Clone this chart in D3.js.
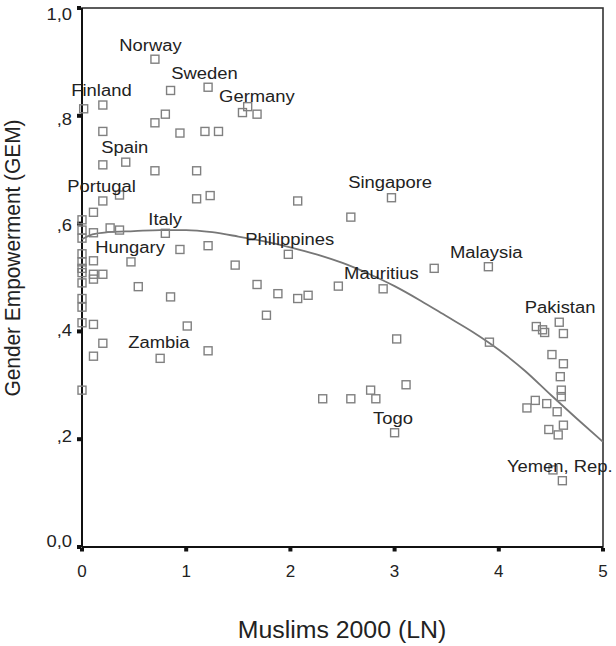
<!DOCTYPE html>
<html>
<head>
<meta charset="utf-8">
<style>
  body { margin: 0; background: #fff; }
  text { font-family: "Liberation Sans", Arial, sans-serif; fill: #222; }
</style>
</head>
<body>
<svg width="616" height="646"></svg>
<script src="https://cdn.jsdelivr.net/npm/d3@7"></script>
<script>
// data: Muslims 2000 (LN) vs GEM
var muslimsLn = [0.70, 0.85, 1.21, 0.016, 0.20, 1.54, 1.59, 1.68, 0.80, 0.70, 0.20, 0.94, 1.18, 1.31,
  0.20, 0.42, 0.70, 1.10, 0.36, 0.20, 1.10, 1.23, 0.11,
  0, 0, 0, 0, 0, 0, 0, 0, 0, 0, 0, 0,
  0.11, 0.27, 0.36, 0.80, 1.21, 0.94, 0.11, 0.47, 1.47, 0.11, 0.20, 0.11, 0.54, 1.68, 0.85,
  0.11, 1.01, 0.20, 1.21, 0.11, 0.75,
  2.07, 2.97, 2.58, 1.98, 3.38, 1.88, 2.07, 2.17, 2.46, 2.89, 1.77, 3.02, 3.11, 2.77, 2.31, 2.58, 2.82, 3.00,
  3.90, 3.91, 4.36, 4.44, 4.42, 4.58, 4.62, 4.51, 4.62, 4.59, 4.60, 4.60, 4.27, 4.35, 4.46, 4.56,
  4.48, 4.62, 4.57, 4.52, 4.61];
var gem = [0.905, 0.847, 0.853, 0.813, 0.820, 0.806, 0.817, 0.803, 0.803, 0.787, 0.771, 0.768, 0.771, 0.771,
  0.709, 0.714, 0.698, 0.698, 0.653, 0.642, 0.646, 0.652, 0.621,
  0.607, 0.588, 0.573, 0.544, 0.529, 0.517, 0.509, 0.490, 0.461, 0.445, 0.416, 0.291,
  0.583, 0.592, 0.588, 0.582, 0.559, 0.552, 0.531, 0.529, 0.523, 0.497, 0.506, 0.506, 0.483, 0.487, 0.464,
  0.413, 0.410, 0.378, 0.364, 0.354, 0.350,
  0.642, 0.648, 0.612, 0.543, 0.517, 0.470, 0.461, 0.467, 0.484, 0.479, 0.430, 0.386, 0.301, 0.291, 0.275, 0.275, 0.275, 0.212,
  0.520, 0.380, 0.409, 0.398, 0.403, 0.417, 0.396, 0.357, 0.340, 0.316, 0.291, 0.279, 0.258, 0.272, 0.266, 0.251,
  0.218, 0.226, 0.208, 0.143, 0.123];

// fitted curve, read at regular x steps
var fitX = [0, 0.1, 0.25, 0.5, 0.75, 1.0, 1.25, 1.5, 1.75, 2.0, 2.25, 2.5, 2.75, 3.0, 3.25, 3.5, 3.75, 4.0, 4.25, 4.5, 4.75, 5.0];
var fitY = [0.571, 0.580, 0.584, 0.586, 0.588, 0.588, 0.584, 0.576, 0.567, 0.556, 0.543, 0.527, 0.507, 0.484, 0.457, 0.428, 0.399, 0.366, 0.327, 0.282, 0.238, 0.195];

// country labels (left edge / baseline in data units)
var labelNames = ["Norway", "Sweden", "Finland", "Germany", "Spain", "Portugal", "Italy", "Hungary", "Zambia",
  "Philippines", "Singapore", "Mauritius", "Togo", "Malaysia", "Pakistan", "Yemen, Rep."];
var labelX = [0.358, 0.856, -0.103, 1.316, 0.185, -0.141, 0.636, 0.128, 0.444, 1.567, 2.555, 2.515, 2.793, 3.531, 4.25, 4.078];
var labelY = [0.920, 0.868, 0.837, 0.825, 0.731, 0.659, 0.597, 0.545, 0.369, 0.560, 0.666, 0.497, 0.228, 0.536, 0.434, 0.139];

var xTicks = [0, 1, 2, 3, 4, 5];
var yTicks = [0, 0.2, 0.4, 0.6, 0.8, 1.0];
var yTickLabels = ["0,0", ",2", ",4", ",6", ",8", "1,0"];

var svg = d3.select('svg');
var margin = { left: 82, right: 13, top: 8, bottom: 99 };
var width = +svg.attr('width') - margin.left - margin.right;
var height = +svg.attr('height') - margin.top - margin.bottom;
var g = svg.append('g')
  .attr('transform', `translate(${margin.left}, ${margin.top})`);

var x = d3.scaleLinear().domain([0, 5]).range([0, width]);
var y = d3.scaleLinear().domain([0, 1]).range([height, 0]);
// tick labels drift slightly from the ticks in the original
var yLab = d3.scaleLinear().domain([0, 1]).range([height - 6, 6]);

// stretch text horizontally a bit, like the source
function stretch(sel, k) {
  sel.each(function () {
    var w = this.getComputedTextLength();
    d3.select(this).attr('textLength', w * k).attr('lengthAdjust', 'spacingAndGlyphs');
  });
}

// frame
g.append('rect')
  .attr('width', width).attr('height', height)
  .attr('fill', 'none').attr('stroke', '#333').attr('stroke-width', 1.6);
g.append('line').attr('x1', 0).attr('x2', 0).attr('y1', 0).attr('y2', height)
  .attr('stroke', '#111').attr('stroke-width', 2);
g.append('line').attr('x1', 0).attr('x2', width).attr('y1', height).attr('y2', height)
  .attr('stroke', '#111').attr('stroke-width', 2);

// tick marks: small black blocks
g.selectAll('.ytick').data(yTicks).enter().append('rect')
  .attr('x', -5).attr('y', function (d) { return y(d) - 2; })
  .attr('width', 4).attr('height', 4).attr('fill', '#111');
g.selectAll('.xtick').data(xTicks).enter().append('rect')
  .attr('x', function (d) { return x(d) - 2; }).attr('y', height + 1)
  .attr('width', 4).attr('height', 3.5).attr('fill', '#111');

// tick labels
g.selectAll('.ylab').data(yTicks).enter().append('text')
  .attr('x', -10).attr('y', function (d) { return yLab(d); })
  .attr('dy', '0.35em').attr('text-anchor', 'end')
  .style('font-size', '17px')
  .text(function (d, i) { return yTickLabels[i]; })
  .call(stretch, 1.08);
g.selectAll('.xlab').data(xTicks).enter().append('text')
  .attr('x', function (d) { return x(d); }).attr('y', height + 30)
  .attr('text-anchor', 'middle')
  .style('font-size', '17px')
  .text(function (d) { return d; });

// axis titles
svg.append('text')
  .attr('x', 342).attr('y', 638)
  .attr('text-anchor', 'middle')
  .style('font-size', '23px')
  .text('Muslims 2000 (LN)')
  .call(stretch, 1.08);
svg.append('text')
  .attr('transform', 'translate(20, 258) rotate(-90)')
  .attr('text-anchor', 'middle')
  .style('font-size', '22px')
  .text('Gender Empowerment (GEM)')
  .attr('textLength', 277).attr('lengthAdjust', 'spacingAndGlyphs');

// fit line
var line = d3.line()
  .x(function (d, i) { return x(fitX[i]); })
  .y(function (d) { return y(d); })
  .curve(d3.curveMonotoneX);
g.append('path')
  .datum(fitY)
  .attr('fill', 'none').attr('stroke', '#777').attr('stroke-width', 1.8)
  .attr('d', line);

// points: open squares
var s = 8;
g.selectAll('.pt').data(gem).enter().append('rect')
  .attr('x', function (d, i) { return x(muslimsLn[i]) - s / 2; })
  .attr('y', function (d) { return y(d) - s / 2; })
  .attr('width', s).attr('height', s)
  .attr('fill', 'none').attr('stroke', '#808080').attr('stroke-width', 1.4);

// country labels
g.selectAll('.country').data(labelNames).enter().append('text')
  .attr('x', function (d, i) { return x(labelX[i]); })
  .attr('y', function (d, i) { return y(labelY[i]); })
  .style('font-size', '16px')
  .text(function (d) { return d; })
  .call(stretch, 1.15);
</script>
</body>
</html>
